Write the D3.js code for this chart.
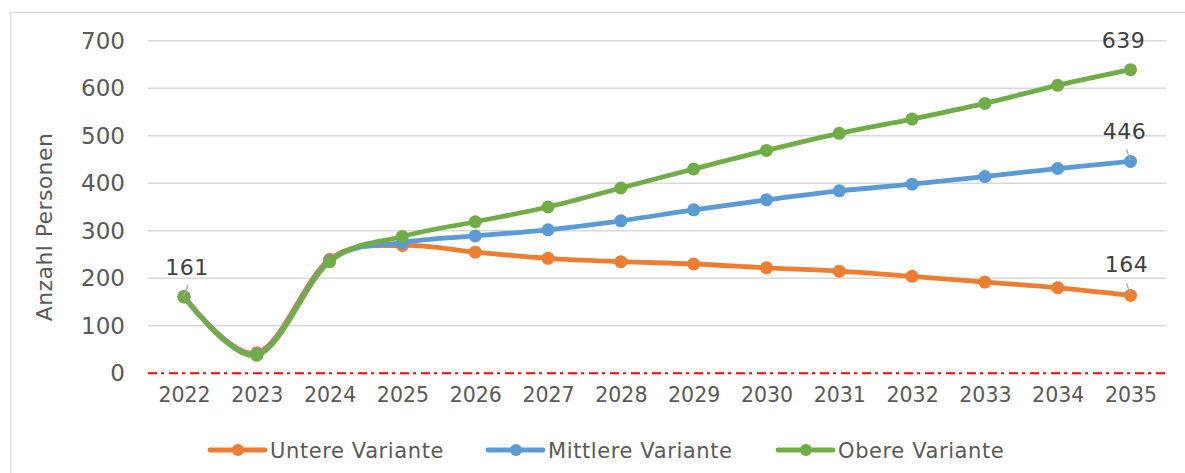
<!DOCTYPE html>
<html>
<head>
<meta charset="utf-8">
<script src="https://cdn.jsdelivr.net/npm/d3@7"></script>
<style>
  body { margin: 0; background: #fff; }
  text { font-family: "DejaVu Sans", sans-serif; }
</style>
</head>
<body>
<script>
// data
const years = [2022, 2023, 2024, 2025, 2026, 2027, 2028, 2029, 2030, 2031, 2032, 2033, 2034, 2035];
const untere   = [161, 43, 240, 269, 255, 242, 235, 230, 222, 215, 204, 192, 180, 164];
const mittlere = [161, 40, 237, 275, 289, 302, 321, 344, 365, 384, 398, 414, 431, 446];
const obere    = [161, 38, 235, 288, 319, 350, 390, 430, 469, 505, 535, 568, 606, 639];
const yTicks = [0, 100, 200, 300, 400, 500, 600, 700];

const series = [
  { name: "Untere Variante",   values: untere,   color: "#ED7D31" },
  { name: "Mittlere Variante", values: mittlere, color: "#5B9BD5" },
  { name: "Obere Variante",    values: obere,    color: "#70AD47" }
];

const svg = d3.select("body")
              .append("svg")
              .attr("width", 1185)
              .attr("height", 473);

// chart frame
svg.append("rect")
   .attr("x", 10.5).attr("y", 12.5)
   .attr("width", 1200).attr("height", 500)
   .attr("fill", "none")
   .attr("stroke", "#d9d9d9")
   .attr("stroke-width", 1.2);

const xscale = d3.scalePoint()
                 .domain(years)
                 .range([184, 1130.5]);

const yscale = d3.scaleLinear()
                 .domain([0, 700])
                 .range([373.3, 40.7]);

const plotLeft = 148, plotRight = 1166;

// gridlines
svg.append("g")
   .selectAll("line")
   .data(yTicks.filter(d => d > 0))
   .enter()
   .append("line")
   .attr("x1", plotLeft).attr("x2", plotRight)
   .attr("y1", d => yscale(d)).attr("y2", d => yscale(d))
   .attr("stroke", "#d9d9d9")
   .attr("stroke-width", 1.4);

// zero line, red dash-dot
svg.append("line")
   .attr("x1", plotLeft).attr("x2", plotRight)
   .attr("y1", yscale(0)).attr("y2", yscale(0))
   .attr("stroke", "#ff0000")
   .attr("stroke-width", 2)
   .attr("stroke-dasharray", "9,4,3,5");

// y axis labels
const yAxis = svg.append("g")
                 .attr("transform", "translate(125,0)")
                 .call(d3.axisLeft(yscale).tickValues(yTicks).tickSize(0).tickPadding(0));
yAxis.select(".domain").remove();
yAxis.selectAll("text")
     .attr("font-size", "23px")
     .attr("font-family", "DejaVu Sans")
     .attr("fill", "#595959");

// x axis labels
const xAxis = svg.append("g")
                 .attr("transform", "translate(0,387)")
                 .call(d3.axisBottom(xscale).tickSize(0).tickPadding(0));
xAxis.select(".domain").remove();
xAxis.selectAll("text")
     .attr("font-size", "20.5px")
     .attr("font-family", "DejaVu Sans")
     .attr("fill", "#595959");

// y title
svg.append("text")
   .attr("transform", "translate(52,227) rotate(-90)")
   .attr("text-anchor", "middle")
   .attr("font-size", "22px")
   .attr("letter-spacing", "0.4px")
   .attr("fill", "#595959")
   .text("Anzahl Personen");

const line = d3.line()
               .x((d, i) => xscale(years[i]))
               .y(d => yscale(d))
               .curve(d3.curveCardinal.tension(0));

series.forEach(s => {
  const g = svg.append("g");
  g.append("path")
   .datum(s.values)
   .attr("d", line)
   .attr("fill", "none")
   .attr("stroke", s.color)
   .attr("stroke-width", 4.8)
   .attr("stroke-linejoin", "round")
   .attr("stroke-linecap", "round");
  g.selectAll("circle")
   .data(s.values)
   .enter()
   .append("circle")
   .attr("cx", (d, i) => xscale(years[i]))
   .attr("cy", d => yscale(d))
   .attr("r", 6.5)
   .attr("fill", s.color);
});

// data labels
const labels = [
  { year: 2022, value: untere[0],  dx: 3,  ty: 275, leader: true },
  { year: 2035, value: obere[13],  dx: -7, ty: 48,  leader: false },
  { year: 2035, value: mittlere[13], dx: -6, ty: 139, leader: true },
  { year: 2035, value: untere[13], dx: -4, ty: 272, leader: true }
];
labels.forEach(l => {
  const px = xscale(l.year), py = yscale(l.value);
  if (l.leader) {
    const flip = l.year === 2022 ? 1 : -1;
    svg.append("line")
       .attr("x1", px).attr("y1", py - 1)
       .attr("x2", px + flip * 4).attr("y2", py - 12)
       .attr("stroke", "#a6a6a6")
       .attr("stroke-width", 1.3);
  }
  svg.append("text")
     .attr("x", px + l.dx)
     .attr("y", l.ty)
     .attr("text-anchor", "middle")
     .attr("font-size", "22px")
     .attr("letter-spacing", "0.5px")
     .attr("fill", "#404040")
     .text(l.value);
});

// legend
const legendX = [210, 488, 778];
const legend = svg.append("g");
series.forEach((s, i) => {
  const lg = legend.append("g").attr("transform", `translate(${legendX[i]},450)`);
  lg.append("line")
    .attr("x1", 0).attr("x2", 55)
    .attr("y1", 0).attr("y2", 0)
    .attr("stroke", s.color)
    .attr("stroke-width", 4.8)
    .attr("stroke-linecap", "round");
  lg.append("circle")
    .attr("cx", 28).attr("cy", 0).attr("r", 6)
    .attr("fill", s.color);
  lg.append("text")
    .attr("x", 60).attr("y", 7.5)
    .attr("font-size", "21px")
    .attr("letter-spacing", "0.6px")
    .attr("fill", "#595959")
    .text(s.name);
});
</script>
</body>
</html>
